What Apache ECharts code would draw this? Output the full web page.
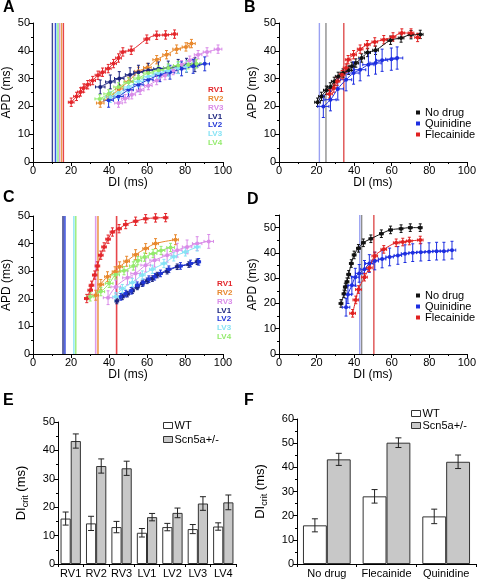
<!DOCTYPE html>
<html><head><meta charset="utf-8">
<script src="https://cdn.jsdelivr.net/npm/echarts/dist/echarts.min.js"></script>
<style>html,body{margin:0;padding:0;background:#fff}#c{width:479px;height:582px}</style>
</head><body><div id="c"></div><script>
// ---------- names, colours ----------
const regionNames = ['RV1','RV2','RV3','LV1','LV2','LV3','LV4'];
const regionColors = ['#e3262b','#e8892e','#d98be8','#1a237e','#1f35d6','#86e3f5','#93eb6c'];
const drugNames = ['No drug','Quinidine','Flecainide'];
const drugColors = ['#111111','#1d2ee0','#e02020'];
const drugLineColors = ['#7a7a7a','#8890f0','#d83030'];

// ---------- Panel A (WT, restitution) ----------
const A_RV1 = [[20.1,21.5],[22.9,23.6],[25,25.2],[26.7,26.6],[28.8,27.8],[31.4,29.3],[34.2,31.2],[36.6,32.3],[39.6,33.6],[42.4,35.4],[45,37.4],[47.3,39.6],[51.7,40.2],[59.9,44.2],[65.1,45.6],[69.8,45.7],[74.5,46]];
const A_RV2 = [[35.4,21.2],[40.7,23.6],[45.4,26.3],[50.3,29],[55.5,32.6],[60.2,34],[65.1,36.8],[70.3,38.6],[75.6,40.6],[80.5,41.4],[83.4,42.6]];
const A_RV3 = [[45,21.2],[48.5,22.8],[52,24.2],[56.4,25.8],[60.7,27.5],[65.1,29.3],[69.5,31.1],[73.8,32.9],[78.2,35],[82.5,36.6],[86.9,38.6],[91.6,39.6],[97.4,40.6]];
const A_LV1 = [[35.4,27],[40.7,28.8],[45.4,30],[51.1,31.4],[55.5,32.3],[60.7,33],[66,33.5],[71.2,33.8],[76.4,34.4],[80.8,34.8],[85.2,35]];
const A_LV2 = [[39.8,22.2],[45,23.6],[50.3,26],[55.5,27.8],[60.7,29.6],[66.8,31.4],[72.1,32.3],[78.2,33.5],[84.3,34.4],[90.4,35.3]];
const A_LV3 = [[40.7,23.4],[45,24.8],[50.3,27],[55.5,29],[60.7,30.8],[66,32],[71.2,32.9],[76.4,33.8],[80.8,34.4]];
const A_LV4 = [[35.1,22.7],[39.8,24.5],[45,27],[50.3,28.7],[55.5,30.2],[60.7,32],[66,33],[71.2,33.8],[76.4,34.7],[81.7,35],[86,35.3]];
const A_err = [[1.5,1.5],[2,1.5],[2,1.5],[2.5,2.5],[2.5,2.5],[2.5,2],[2.5,1.5]];
const A_crit = [16,15,14,10.2,11.8,12.6,13.2];

// ---------- Panel B (WT, drugs) ----------
const B_NoDrug = [[20.5,21.5],[22.6,23.6],[25.2,25.8],[27.3,27],[29.4,29],[31.5,30.8],[34.1,32],[37.1,33],[38.8,34.4],[40.9,35.6],[44,37.4],[47.2,39.4],[51.4,40.2],[59.4,43.8],[65,44.6],[70.3,45.8],[75.2,45.9]];
const B_Quin = [[23.6,20],[27.4,22.4],[31.3,26.3],[35.7,29.6],[39.7,32],[43.2,33.2],[47.6,35],[51.4,35.6],[54.9,36.6],[59.8,37],[62.9,37.4]];
const B_Flec = [[26.9,24.5],[29.2,26.6],[30.9,29],[33.6,31.4],[35.7,33.8],[36.8,36.8],[39.7,38.6],[43.2,40.6],[47,42.2],[51,43.2],[55.8,44],[60.7,45],[65.4,46.4],[70.3,46.4],[73.8,44.8]];
const B_err = [[1.5,1.5],[3,4],[1.5,1.5]];
const B_crit = [25,21.5,34.5];

// ---------- Panel C (Scn5a+/-, restitution) ----------
const C_RV1 = [[28.3,20.1],[30.1,23.1],[30.8,24.9],[32.5,28.6],[33.9,31.9],[35.7,35.8],[37.4,38.8],[39.5,41.6],[41.8,44.2],[45.3,45.4],[48.8,46.9],[54,48.1],[59.3,49],[64.5,49.3],[69.8,49.4]];
const C_RV2 = [[33,21.3],[35.7,25.2],[39.2,28],[43.2,29.8],[45.6,31.6],[49.3,33.6],[54,36],[59.3,38.2],[64.5,40],[75,41.4]];
const C_RV3 = [[39.5,20.4],[43.5,24.3],[49.7,27.6],[54,29.2],[59.3,32.2],[64,34],[70.6,35.8],[75.9,37.6],[81.1,38.8],[86.4,40],[92.5,40.8]];
const C_LV1 = [[44.1,19.2],[47,20.7],[49.7,21.7],[52.3,22.9],[54.9,24.3],[57.5,25.5],[60.1,26.5],[62.8,27.3],[65.4,28.6],[70.6,30],[75.9,31.6],[82,32.4],[86.4,33.4]];
const C_LV2 = [[46.2,20.7],[48.8,21.9],[51.7,22.9],[54.9,24.9],[58,25.9],[61,27.1],[64,28],[67.1,29.2],[71.5,30.7],[77.6,31.9],[82.9,32.8],[87.2,33.4]];
const C_LV3 = [[43.5,20.7],[47,23.7],[52.3,25.9],[57.5,28.6],[62.8,30.7],[68.9,32.8],[74.1,35.2],[80.2,37],[86.4,38.8]];
const C_LV4 = [[30.1,20.7],[35.7,22.6],[40.1,25.6],[43.5,28.7],[47.9,30.2],[52.8,31.9],[55.2,33.8],[58.7,35.1],[63.2,36.4],[67.4,37.5],[72.4,38.6]];
const C_err = [[1.2,1.5],[1.5,1.8],[2.5,2.5],[1,1],[1,1.2],[1.5,1.5],[2,1.5]];
const C_crit = [44,34.2,33,15.8,16.8,21.5,22.5];

// ---------- Panel D (Scn5a+/-, drugs) ----------
const D_NoDrug = [[33,20],[34.6,23.8],[35.3,26.5],[36.2,28.6],[37.1,31.5],[38.5,35.8],[40,39.2],[42.3,41.8],[44.9,44],[48.9,45.6],[54.5,47.6],[59.4,49.1],[65,49.6],[69.9,50],[75.2,50]];
const D_Quin = [[35.7,18.5],[36.7,23.5],[38.8,27.2],[40.6,30.4],[42.7,31.9],[45.5,33.5],[48.1,35.8],[51,36.8],[54.9,37.6],[58.9,38.4],[63.3,39],[67.1,39.7],[71.2,40.1],[75.5,40.3],[79.9,40.5],[83.9,40.7],[87.8,40.7],[92.1,41.1]];
const D_Flec = [[39.2,16.1],[40.9,21.4],[42.3,25.5],[45.5,30.4],[48.1,34.1],[51,38.8],[55.8,41.4],[62.4,44],[65.9,44.3],[69.4,44.7],[75.2,45.1]];
const D_err = [[1,1.5],[2,3.5],[1.5,1.5]];
const D_crit = [44,43,50.5];

// ---------- Panel E ----------
const E_cats = ['RV1','RV2','RV3','LV1','LV2','LV3','LV4'];
const E_WT = [16,14.3,13,11,13,12.3,13.2];
const E_WT_err = [2.3,2.5,2,1.5,1.3,1.6,1.3];
const E_Scn = [43.3,34.5,33.7,16.5,18,21.3,21.7];
const E_Scn_err = [2.5,2.5,2.5,1.3,1.7,2.4,2.6];

// ---------- Panel F ----------
const F_cats = ['No drug','Flecainide','Quinidine'];
const F_WT = [16,28,19.7];
const F_WT_err = [2.7,2.8,3];
const F_Scn = [43.3,50.2,42.3];
const F_Scn_err = [2.5,2,2.8];

// ---------- helpers ----------
const FONT = 'Liberation Sans, Arial, Helvetica, sans-serif';
function errRender(params, api){
  const x=api.value(0), y=api.value(1), xe=api.value(2), ye=api.value(3);
  const top=api.coord([x,y+ye]), bot=api.coord([x,y-ye]);
  const l=api.coord([x-xe,y]), r=api.coord([x+xe,y]);
  const cap=1.5;
  const st={stroke:api.visual('color'), lineWidth:1};
  return {type:'group', children:[
    {type:'line', shape:{x1:top[0],y1:top[1],x2:bot[0],y2:bot[1]}, style:st},
    {type:'line', shape:{x1:top[0]-cap,y1:top[1],x2:top[0]+cap,y2:top[1]}, style:st},
    {type:'line', shape:{x1:bot[0]-cap,y1:bot[1],x2:bot[0]+cap,y2:bot[1]}, style:st},
    {type:'line', shape:{x1:l[0],y1:l[1],x2:r[0],y2:r[1]}, style:st},
    {type:'line', shape:{x1:l[0],y1:l[1]-cap,x2:l[0],y2:l[1]+cap}, style:st},
    {type:'line', shape:{x1:r[0],y1:r[1]-cap,x2:r[0],y2:r[1]+cap}, style:st}
  ]};
}
function curveSeries(g, names, colors, sets, errs){
  const out=[];
  sets.forEach((pts,i)=>{
    out.push({type:'custom', name:names[i], xAxisIndex:g, yAxisIndex:g, silent:true, z:3,
      renderItem:errRender, itemStyle:{color:colors[i]}, encode:{x:0,y:1},
      data:pts.map(p=>[p[0],p[1],errs[i][0],errs[i][1]])});
    out.push({type:'line', name:names[i], xAxisIndex:g, yAxisIndex:g, silent:true, z:4,
      data:pts, smooth:0.4, symbol:'circle', symbolSize:4, showSymbol:true,
      lineStyle:{width:1,color:colors[i]}, itemStyle:{color:colors[i]}});
  });
  return out;
}
function vlineSeries(g, xs, colors, ymax, w){
  return {type:'custom', xAxisIndex:g, yAxisIndex:g, silent:true, z:1, encode:{x:0,y:1},
    data:xs.map((x,i)=>[x,i]),
    renderItem:(p,api)=>{const x=api.value(0), i=api.value(1);
      const a=api.coord([x,0]), b=api.coord([x,ymax]);
      return {type:'line', shape:{x1:a[0],y1:a[1],x2:b[0],y2:b[1]}, style:{stroke:colors[i], lineWidth:w, opacity:0.85}};}};
}
function barErr(g, vals, errs, side){
  return {type:'custom', xAxisIndex:g, yAxisIndex:g, silent:true, z:5, encode:{x:0,y:1},
    data:vals.map((v,i)=>[i,v,errs[i]]),
    renderItem:(p,api)=>{const i=api.value(0), v=api.value(1), e=api.value(2);
      const band=api.size([1,0])[0]; const off=side*band*0.2;
      const t=api.coord([i,v+e]), b=api.coord([i,v-e]); const x=t[0]+off; const cap=3;
      const st={stroke:'#222', lineWidth:1};
      return {type:'group', children:[
        {type:'line', shape:{x1:x,y1:t[1],x2:x,y2:b[1]}, style:st},
        {type:'line', shape:{x1:x-cap,y1:t[1],x2:x+cap,y2:t[1]}, style:st},
        {type:'line', shape:{x1:x-cap,y1:b[1],x2:x+cap,y2:b[1]}, style:st}]};}};
}
const axisLineS = {show:true, lineStyle:{color:'#000', width:1}};
const tickS = {show:true, length:4, lineStyle:{color:'#000'}};
const minorS = {show:true, splitNumber:2, length:2, lineStyle:{color:'#000'}};
const labelS = {fontSize:11, color:'#000', fontFamily:FONT, margin:3};
function valX(g){ return {type:'value', gridIndex:g, min:0, max:100, interval:20, name:'DI (ms)', nameLocation:'middle', nameGap:15,
  nameTextStyle:{fontSize:12, color:'#000', fontFamily:FONT}, axisLine:axisLineS, axisTick:tickS, minorTick:minorS, axisLabel:labelS, splitLine:{show:false}}; }
function valY(g, max){ return {type:'value', gridIndex:g, min:0, max:max, interval:10, name:'APD (ms)', nameLocation:'middle', nameGap:20,
  nameTextStyle:{fontSize:12, color:'#000', fontFamily:FONT}, axisLine:axisLineS, axisTick:tickS, minorTick:minorS,
  axisLabel:Object.assign({}, labelS, {showMaxLabel: max%10===0, formatter:v=>(v%10===0?String(v):'')}), splitLine:{show:false}}; }
function catX(g, cats){ return {type:'category', gridIndex:g, data:cats, axisLine:axisLineS, axisTick:{show:true, length:3, alignWithLabel:false, lineStyle:{color:'#000'}},
  axisLabel:Object.assign({}, labelS, {interval:0, margin:4}), splitLine:{show:false}}; }
function barY(g, max){ return {type:'value', gridIndex:g, min:0, max:max, interval:10, name:'{a|DI}{b|crit}{a| (ms)}', nameLocation:'middle', nameGap:28,
  nameTextStyle:{color:'#000', fontFamily:FONT, rich:{a:{fontSize:13, fontFamily:FONT, color:'#000', verticalAlign:'top', lineHeight:15}, b:{fontSize:9, fontFamily:FONT, color:'#000', verticalAlign:'bottom', lineHeight:15, padding:[6,0,0,0]}}},
  axisLine:axisLineS, axisTick:tickS, minorTick:minorS, axisLabel:labelS, splitLine:{show:false}}; }

const series = [];
series.push(vlineSeries(0, A_crit, regionColors, 50, 1.4));
series.push(...curveSeries(0, regionNames, regionColors, [A_RV1,A_RV2,A_RV3,A_LV1,A_LV2,A_LV3,A_LV4], A_err));
series.push(vlineSeries(1, B_crit, drugLineColors, 50, 1.4));
series.push(...curveSeries(1, drugNames, drugColors, [B_NoDrug,B_Quin,B_Flec], B_err));
series.push(vlineSeries(2, C_crit, regionColors, 50, 1.6));
series.push(...curveSeries(2, regionNames, regionColors, [C_RV1,C_RV2,C_RV3,C_LV1,C_LV2,C_LV3,C_LV4], C_err));
series.push(vlineSeries(3, D_crit, drugLineColors, 55, 1.4));
series.push(...curveSeries(3, drugNames, drugColors, [D_NoDrug,D_Quin,D_Flec], D_err));
const barStyleWT = {color:'#ffffff', borderColor:'#333', borderWidth:1};
const barStyleScn = {color:'#c8c8c8', borderColor:'#333', borderWidth:1};
series.push({type:'bar', name:'WT', xAxisIndex:4, yAxisIndex:4, data:E_WT, itemStyle:barStyleWT, barGap:'0%', barCategoryGap:'20%', silent:true});
series.push({type:'bar', name:'Scn5a+/-', xAxisIndex:4, yAxisIndex:4, data:E_Scn, itemStyle:barStyleScn, barGap:'0%', barCategoryGap:'20%', silent:true});
series.push(barErr(4, E_WT, E_WT_err, -1));
series.push(barErr(4, E_Scn, E_Scn_err, 1));
series.push({type:'bar', name:'WT', xAxisIndex:5, yAxisIndex:5, data:F_WT, itemStyle:barStyleWT, barGap:'0%', barCategoryGap:'20%', silent:true});
series.push({type:'bar', name:'Scn5a+/-', xAxisIndex:5, yAxisIndex:5, data:F_Scn, itemStyle:barStyleScn, barGap:'0%', barCategoryGap:'20%', silent:true});
series.push(barErr(5, F_WT, F_WT_err, -1));
series.push(barErr(5, F_Scn, F_Scn_err, 1));

function regionLegend(left, top){ return {left:left, top:top, padding:0, orient:'vertical', icon:'none', itemWidth:0, itemHeight:8, itemGap:0.8, selectedMode:false,
  textStyle:{fontSize:8, fontWeight:'bold', fontFamily:FONT, padding:0},
  data:regionNames.map((n,i)=>({name:n, textStyle:{color:regionColors[i], fontSize:8, fontWeight:'bold'}}))}; }
function drugLegend(left, top){ return {left:left, top:top, padding:0, orient:'vertical', icon:'rect', itemWidth:4, itemHeight:4, itemGap:0, selectedMode:false,
  textStyle:{fontSize:11, color:'#000', fontFamily:FONT}, data:drugNames}; }
function barLegend(left, top, gap){ return {left:left, top:top, padding:0, orient:'vertical', icon:'rect', itemWidth:9, itemHeight:6, itemGap:gap, selectedMode:false,
  itemStyle:{borderColor:'#333', borderWidth:1},
  textStyle:{fontSize:11, color:'#000', fontFamily:FONT, padding:[0,0,0,-3]}, data:['WT','Scn5a+/-']}; }

const option = {
  animation:false,
  textStyle:{fontFamily:FONT},
  grid:[
    {left:32, top:23, width:191, height:139},
    {left:279, top:23, width:191, height:139},
    {left:32, top:216, width:191, height:138},
    {left:279, top:215, width:191, height:139},
    {left:58, top:422, width:178, height:142},
    {left:297, top:419, width:179, height:145}
  ],
  xAxis:[valX(0), valX(1), valX(2), valX(3), catX(4, E_cats), catX(5, F_cats)],
  yAxis:[valY(0,50), valY(1,50), valY(2,50), valY(3,55), barY(4,50), barY(5,60)],
  legend:[regionLegend(203,86), drugLegend(416,107), regionLegend(212,280), drugLegend(416,290), barLegend(163,420,3), barLegend(411,408,1)],
  graphic:[
    {type:'text', left:3, top:0, style:{text:'A', font:'bold 16px '+FONT, fill:'#000'}},
    {type:'text', left:244, top:0, style:{text:'B', font:'bold 16px '+FONT, fill:'#000'}},
    {type:'text', left:3, top:190, style:{text:'C', font:'bold 16px '+FONT, fill:'#000'}},
    {type:'text', left:247, top:192, style:{text:'D', font:'bold 16px '+FONT, fill:'#000'}},
    {type:'text', left:3, top:393, style:{text:'E', font:'bold 16px '+FONT, fill:'#000'}},
    {type:'text', left:244, top:393, style:{text:'F', font:'bold 16px '+FONT, fill:'#000'}}
  ],
  series:series
};
const chart = echarts.init(document.getElementById('c'), null, {renderer:'canvas'});
chart.setOption(option);
</script></body></html>
